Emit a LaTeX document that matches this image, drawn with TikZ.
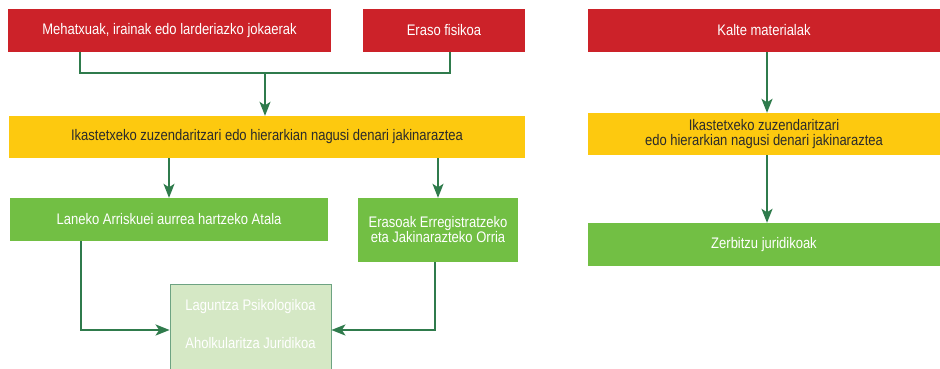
\documentclass[tikz,border=0pt]{standalone}
\usepackage{fontspec}
\setmainfont{Liberation Sans}[FakeStretch=0.85]
\usepackage{xcolor}
\usepackage{tikz}
\usetikzlibrary{positioning, arrows.meta}

\definecolor{alarmred}{HTML}{CC2229}
\definecolor{noticeyellow}{HTML}{FDC90F}
\definecolor{actiongreen}{HTML}{72BF44}
\definecolor{palegreen}{HTML}{D5E8C5}
\definecolor{linkgreen}{HTML}{2F7B4C}
\definecolor{darktext}{HTML}{2B2B2B}

\tikzset{
  box/.style={inner sep=0pt, align=center, font=\fontsize{15.3}{15}\selectfont},
  redbox/.style={box, fill=alarmred, text=white},
  yellowbox/.style={box, fill=noticeyellow, text=darktext},
  greenbox/.style={box, fill=actiongreen, text=white},
  palebox/.style={box, fill=palegreen, draw=linkgreen!70, line width=0.8pt, text=white},
  link/.style={draw=linkgreen, line width=2pt},
  arrow/.style={link, -{Stealth[length=14pt, width=11pt, inset=3.5pt]}}
}

\begin{document}
\begin{tikzpicture}[x=1pt, y=-1pt]
        \useasboundingbox (0,0) rectangle (940,368);

        % Left column
        \node[redbox, minimum width=323pt, minimum height=43pt] (threat) at (169.5,30.5) {Mehatxuak, irainak edo larderiazko jokaerak};
        \node[redbox, minimum width=162pt, minimum height=43pt] (assault) at (444,30.5) {Eraso fisikoa};
        \node[yellowbox, minimum width=516pt, minimum height=42pt] (inform) at (267,137) {Ikastetxeko zuzendaritzari edo hierarkian nagusi denari jakinaraztea};
        \node[greenbox, minimum width=318pt, minimum height=43pt] (prevention) at (169,219.5) {Laneko Arriskuei aurrea hartzeko Atala};
        \node[greenbox, minimum width=160pt, minimum height=64pt] (record) at (438,230) {Erasoak Erregistratzeko\\eta Jakinarazteko Orria};
        \node[palebox, minimum width=161pt, minimum height=88pt] (support) at (250.5,328) {Laguntza Psikologikoa\\[23pt]Aholkularitza Juridikoa\\[-6pt]};

        % Right column
        \node[redbox, minimum width=352pt, minimum height=43pt] (damage) at (764,30.5) {Kalte materialak};
        \node[yellowbox, minimum width=352pt, minimum height=42pt] (inform2) at (764,134) {Ikastetxeko zuzendaritzari\\edo hierarkian nagusi denari jakinaraztea};
        \node[greenbox, minimum width=352pt, minimum height=43pt] (legal) at (764,244.5) {Zerbitzu juridikoak};

        % Connectors, left
        \coordinate (join) at (265,73);
        \draw[link] ([xshift=-89.5pt]threat.south) |- (join) -| ([xshift=6pt]assault.south);
        \draw[arrow] (join) -- (join |- inform.north);
        \draw[arrow] (inform.south -| prevention.north) -- (prevention.north);
        \draw[arrow] (inform.south -| record.north) -- (record.north);
        \draw[arrow] ([xshift=-88pt]prevention.south) |- ([yshift=-2pt]support.west);
        \draw[arrow] ([xshift=-3pt]record.south) |- ([yshift=-2pt]support.east);

        % Connectors, right
        \draw[arrow] ([xshift=3pt]damage.south) -- ([xshift=3pt]inform2.north);
        \draw[arrow] ([xshift=3pt]inform2.south) -- ([xshift=3pt]legal.north);
    \end{tikzpicture}
\end{document}
